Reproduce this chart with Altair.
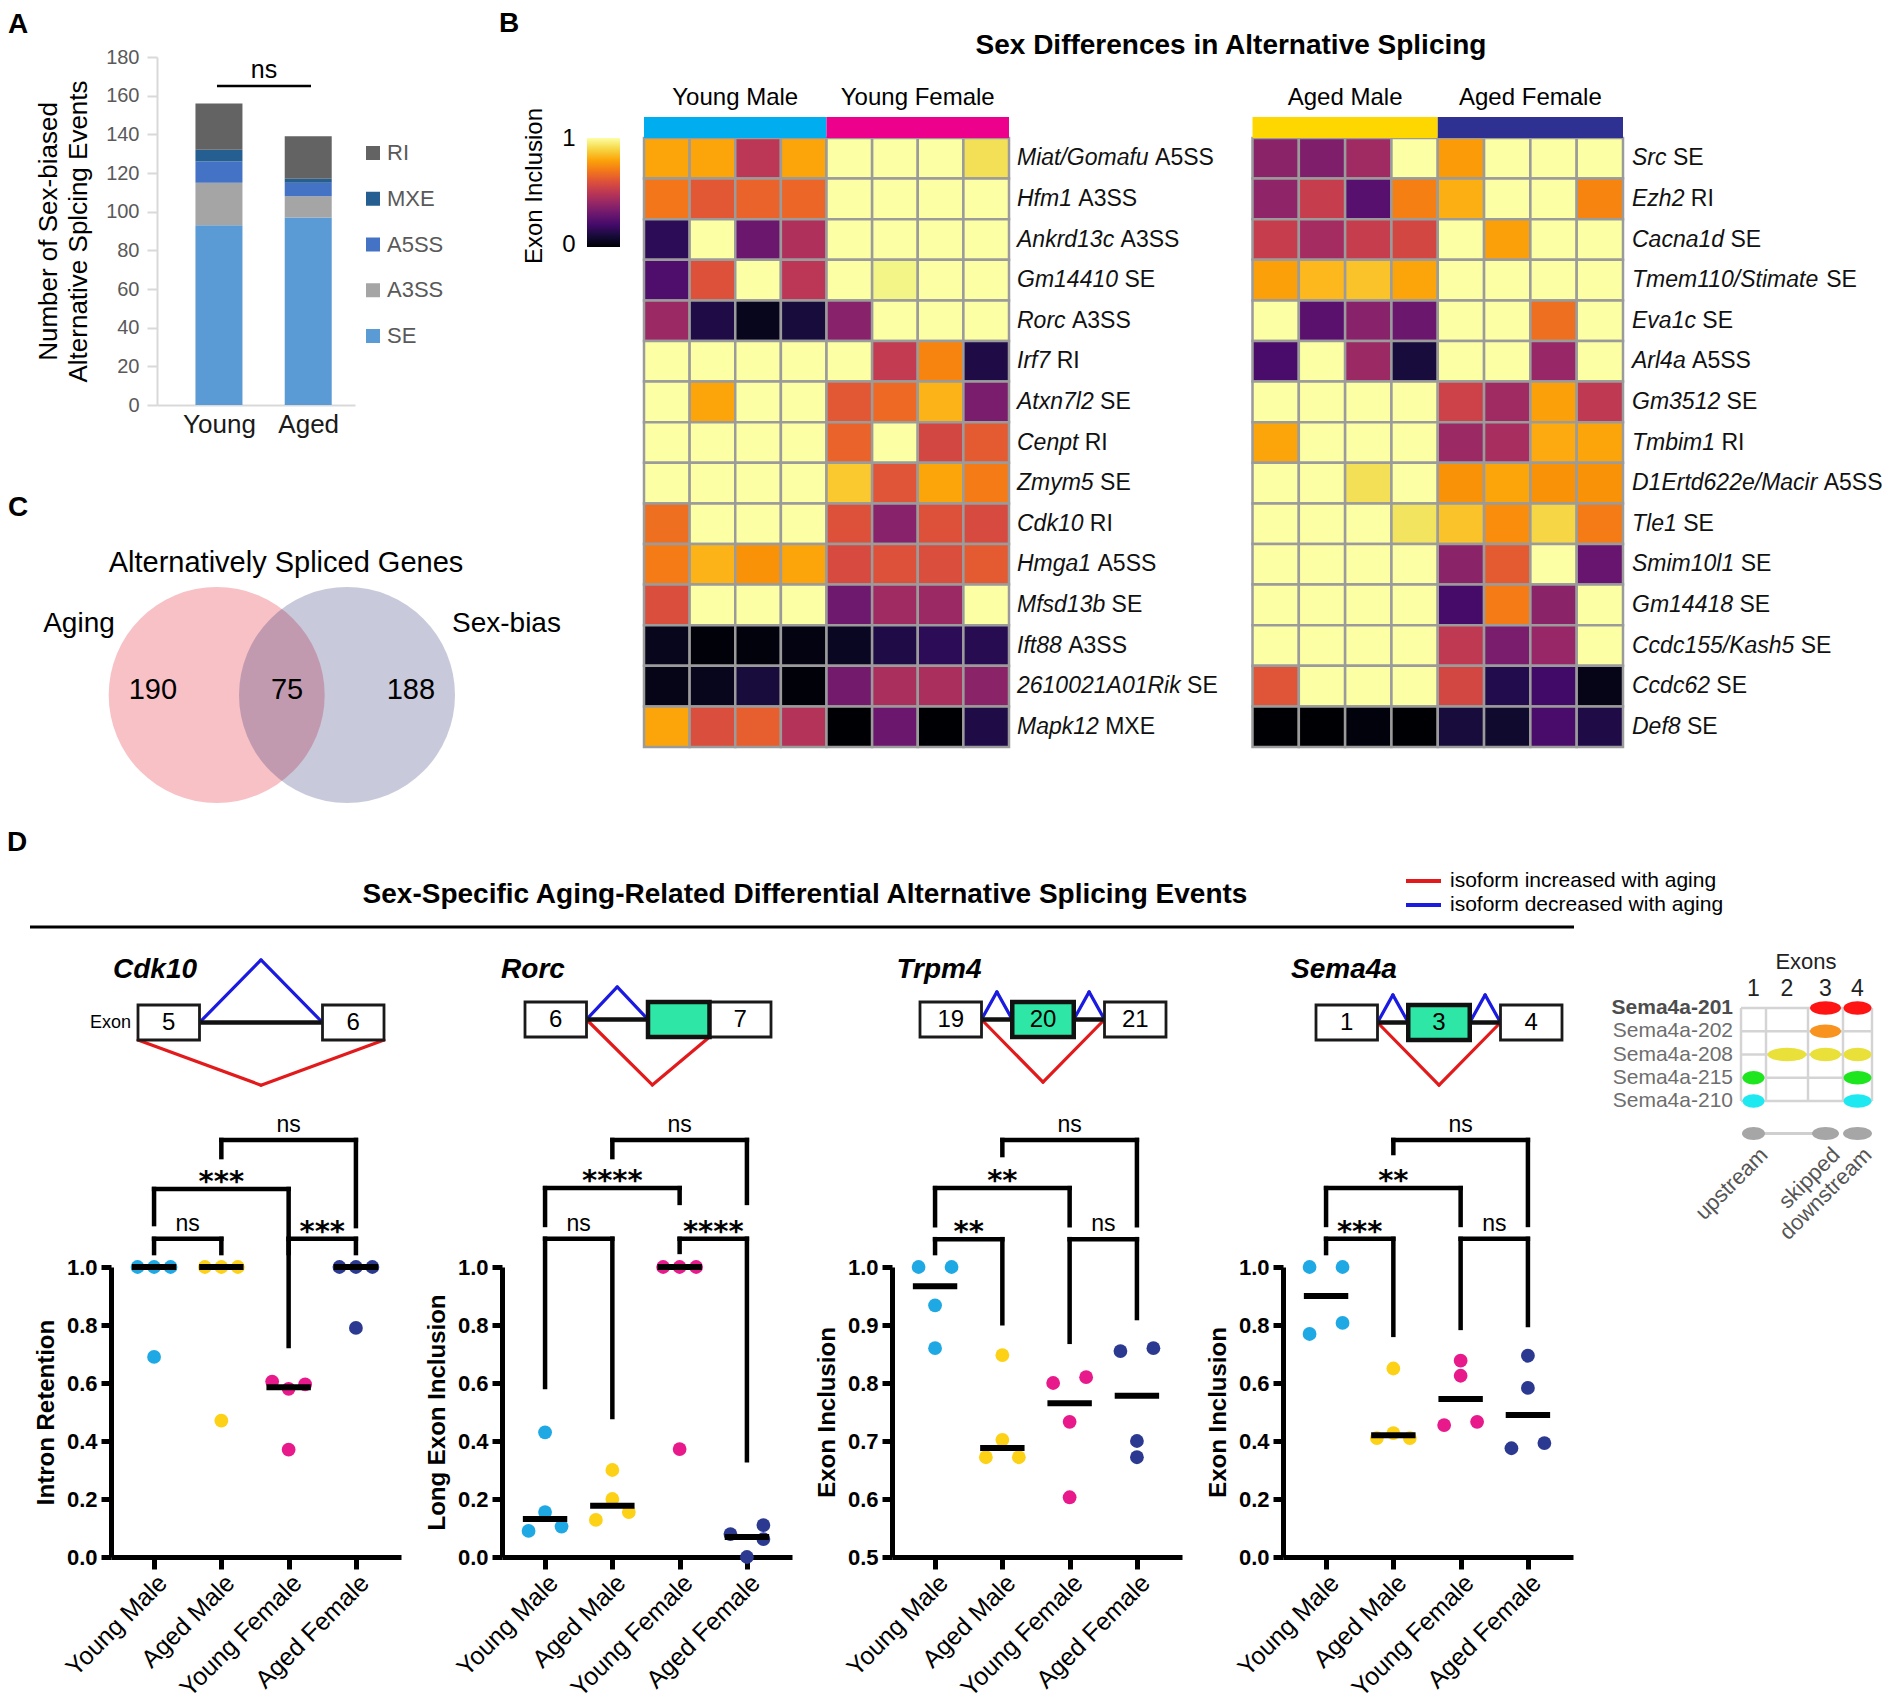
import altair as alt
import pandas as pd

W, H = 1882, 1700
FONT = "Liberation Sans"


def P(v):
    return v - 8


AW = {" ": 278, "/": 278, "-": 333, ".": 278, "*": 389}
for _ch in "0123456789":
    AW[_ch] = 556
AW.update({"A": 667, "B": 667, "C": 722, "D": 722, "E": 667, "F": 611, "G": 778, "H": 722, "I": 278,
           "J": 500, "K": 667, "L": 556, "M": 833, "N": 722, "O": 778, "P": 667, "Q": 778, "R": 722,
           "S": 667, "T": 611, "U": 722, "V": 667, "W": 944, "X": 667, "Y": 667, "Z": 611,
           "a": 556, "b": 556, "c": 500, "d": 556, "e": 556, "f": 278, "g": 556, "h": 556, "i": 222,
           "j": 222, "k": 500, "l": 222, "m": 833, "n": 556, "o": 556, "p": 556, "q": 556, "r": 333,
           "s": 500, "t": 278, "u": 556, "v": 500, "w": 722, "x": 500, "y": 500, "z": 500})


def tw(s, fs):
    return sum(AW.get(ch, 556) for ch in s) / 1000.0 * fs


def lin(d0, d1, r0, r1):
    return alt.Scale(domain=[d0, d1], range=[P(r0), P(r1)], nice=False, zero=False)


def note(text, x, y, size, weight="normal", style="normal", align="center", baseline="middle",
         angle=0, color="#000000", font=FONT):
    df = pd.DataFrame({"t": [text]})
    return alt.Chart(df).mark_text(align=align, baseline=baseline, fontSize=size, fontWeight=weight,
                                   fontStyle=style, angle=angle, color=color, font=font).encode(
        text="t:N", x=alt.value(P(x)), y=alt.value(P(y)))


layers = []

# ======================= DATA =======================
# Panel A
A_groups = ["Young", "Aged"]
A_types = ["SE", "A3SS", "A5SS", "MXE", "RI"]
A_young = [93, 22, 11, 6, 24]
A_aged = [97, 11, 7, 2, 22]
A_colors = ["#5b9bd5", "#a5a5a5", "#4472c4", "#255e91", "#636363"]
A_legend = ["RI", "MXE", "A5SS", "A3SS", "SE"]
A_yticks = [0, 20, 40, 60, 80, 100, 120, 140, 160, 180]
A_sig_y = 165
A_sig_label = "ns"

# Panel B heatmaps
HL_groups = ["Young Male", "Young Female"]
HR_groups = ["Aged Male", "Aged Female"]
G_colors = ["#00aeef", "#ec008c", "#ffd700", "#2e3192"]
HL_genes = ["Miat/Gomafu", "Hfm1", "Ankrd13c", "Gm14410", "Rorc", "Irf7", "Atxn7l2", "Cenpt", "Zmym5",
            "Cdk10", "Hmga1", "Mfsd13b", "Ift88", "2610021A01Rik", "Mapk12"]
HL_events = ["A5SS", "A3SS", "A3SS", "SE", "A3SS", "RI", "SE", "RI", "SE", "RI", "A5SS", "SE", "A3SS",
             "SE", "MXE"]
HL_vals = [
    [0.80, 0.80, 0.50, 0.80, 1, 1, 1, 0.92],
    [0.70, 0.62, 0.65, 0.66, 1, 1, 1, 1],
    [0.15, 1, 0.30, 0.47, 1, 1, 1, 1],
    [0.23, 0.60, 1, 0.50, 1, 0.97, 1, 1],
    [0.42, 0.12, 0.05, 0.10, 0.37, 1, 1, 1],
    [1, 1, 1, 1, 1, 0.52, 0.73, 0.12],
    [1, 0.80, 1, 1, 0.62, 0.67, 0.83, 0.34],
    [1, 1, 1, 1, 0.65, 1, 0.57, 0.63],
    [1, 1, 1, 1, 0.87, 0.61, 0.80, 0.71],
    [0.68, 1, 1, 1, 0.60, 0.37, 0.60, 0.58],
    [0.71, 0.83, 0.76, 0.80, 0.58, 0.60, 0.59, 0.63],
    [0.59, 1, 1, 1, 0.31, 0.43, 0.42, 1],
    [0.05, 0.01, 0.02, 0.03, 0.06, 0.12, 0.15, 0.14],
    [0.04, 0.05, 0.10, 0.01, 0.32, 0.46, 0.46, 0.38],
    [0.80, 0.59, 0.64, 0.48, 0.00, 0.30, 0.00, 0.12],
]
HR_genes = ["Src", "Ezh2", "Cacna1d", "Tmem110/Stimate", "Eva1c", "Arl4a", "Gm3512", "Tmbim1",
            "D1Ertd622e/Macir", "Tle1", "Smim10l1", "Gm14418", "Ccdc155/Kash5", "Ccdc62", "Def8"]
HR_events = ["SE", "RI", "SE", "SE", "SE", "A5SS", "SE", "RI", "A5SS", "SE", "SE", "SE", "SE", "SE", "SE"]
HR_vals = [
    [0.38, 0.35, 0.43, 1, 0.78, 1, 1, 1],
    [0.39, 0.53, 0.25, 0.72, 0.82, 1, 1, 0.73],
    [0.53, 0.44, 0.53, 0.57, 1, 0.79, 1, 1],
    [0.79, 0.84, 0.86, 0.80, 1, 1, 1, 1],
    [1, 0.26, 0.37, 0.30, 1, 1, 0.68, 1],
    [0.22, 1, 0.42, 0.10, 1, 1, 0.41, 1],
    [1, 1, 1, 1, 0.55, 0.43, 0.79, 0.51],
    [0.80, 1, 1, 1, 0.42, 0.45, 0.81, 0.80],
    [1, 1, 0.92, 1, 0.76, 0.80, 0.76, 0.76],
    [1, 1, 1, 0.93, 0.86, 0.75, 0.90, 0.71],
    [1, 1, 1, 1, 0.38, 0.63, 1, 0.29],
    [1, 1, 1, 1, 0.21, 0.71, 0.38, 1],
    [1, 1, 1, 1, 0.51, 0.34, 0.41, 1],
    [0.61, 1, 1, 1, 0.57, 0.13, 0.20, 0.04],
    [0.00, 0.00, 0.02, 0.00, 0.10, 0.08, 0.22, 0.12],
]
INFERNO = ["#000004", "#160b39", "#420a68", "#6a176e", "#932667", "#bc3754", "#dd513a", "#f37819",
           "#fca50a", "#f6d746", "#fcffa4"]

# Panel C
V_sets = ["Aging", "Sex-bias"]
V_counts = [190, 75, 188]

# Panel D
D_groups = ["Young Male", "Aged Male", "Young Female", "Aged Female"]
D_colors = ["#1ea8e4", "#fcd116", "#e8198b", "#2b3990"]
D_genes = ["Cdk10", "Rorc", "Trpm4", "Sema4a"]
D_ytitles = ["Intron Retention", "Long Exon Inclusion", "Exon Inclusion", "Exon Inclusion"]
D_ydomains = [[0, 1], [0, 1], [0.5, 1], [0, 1]]
D_yticks = [[0, 0.2, 0.4, 0.6, 0.8, 1.0], [0, 0.2, 0.4, 0.6, 0.8, 1.0],
            [0.5, 0.6, 0.7, 0.8, 0.9, 1.0], [0, 0.2, 0.4, 0.6, 0.8, 1.0]]
D_vals = [
    [[1.0, 1.0, 1.0, 0.69], [1.0, 1.0, 1.0, 0.47], [0.605, 0.58, 0.595, 0.37], [1.0, 1.0, 1.0, 0.79]],
    [[0.43, 0.155, 0.09, 0.105], [0.30, 0.20, 0.128, 0.155], [1.0, 1.0, 1.0, 0.372], [0.11, 0.079, 0.062, 0.0]],
    [[1.0, 1.0, 0.934, 0.86], [0.848, 0.702, 0.672, 0.672], [0.80, 0.81, 0.733, 0.603], [0.855, 0.86, 0.70, 0.672]],
    [[1.0, 1.0, 0.807, 0.769], [0.65, 0.427, 0.41, 0.41], [0.677, 0.625, 0.455, 0.466], [0.694, 0.583, 0.375, 0.393]],
]
D_jitter = [
    [[-1, 0, 1, 0], [-1, 0, 1, 0], [-1, 0, 1, 0], [-1, 0, 1, 0]],
    [[0, 0, -1, 1], [0, 0, -1, 1], [-1, 0, 1, 0], [1, -1, 1, 0]],
    [[-1, 1, 0, 0], [0, 0, -1, 1], [-1, 1, 0, 0], [-1, 1, 0, 0]],
    [[-1, 1, 1, -1], [0, 0, -1, 1], [0, 0, -1, 1], [0, 0, -1, 1]],
]
D_medians = [[1.0, 1.0, 0.585, 1.0], [0.131, 0.177, 1.0, 0.069], [0.967, 0.688, 0.765, 0.778],
             [0.90, 0.42, 0.545, 0.49]]
# brackets: group1, group2, top, left-leg end, right-leg end, label
D_brackets = [
    [(0, 1, 1.097, 1.048, 1.048, "ns"), (2, 3, 1.097, 1.048, 1.048, "***"),
     (0, 2, 1.269, 1.148, 0.728, "***"), (1, 3, 1.438, 1.379, 1.141, "ns")],
    [(0, 1, 1.097, 0.586, 0.483, "ns"), (2, 3, 1.097, 1.052, 0.334, "****"),
     (0, 2, 1.272, 1.145, 1.221, "****"), (1, 3, 1.438, 1.379, 1.221, "ns")],
    [(0, 1, 1.048, 1.024, 0.903, "**"), (2, 3, 1.048, 0.871, 0.912, "ns"),
     (0, 2, 1.136, 1.072, 1.072, "**"), (1, 3, 1.219, 1.193, 1.072, "ns")],
    [(0, 1, 1.097, 1.048, 0.766, "***"), (2, 3, 1.097, 0.79, 0.80, "ns"),
     (0, 2, 1.272, 1.145, 1.145, "**"), (1, 3, 1.438, 1.393, 1.145, "ns")],
]
# exon diagrams (units: one exon box = 1 wide, box height = 1)
DG_boxes = [
    [(0, 1, "5", 0), (3, 4, "6", 0)],
    [(0, 1, "6", 0), (2, 3, "", 1), (3, 4, "7", 0)],
    [(0, 1, "19", 0), (1.5, 2.5, "20", 1), (3, 4, "21", 0)],
    [(0, 1, "1", 0), (1.5, 2.5, "3", 1), (3, 4, "4", 0)],
]
DG_black = [
    [(1, 0.5, 3, 0.5)],
    [(1, 0.5, 2, 0.5)],
    [(1, 0.5, 1.5, 0.5), (2.5, 0.5, 3, 0.5)],
    [(1, 0.5, 1.5, 0.5), (2.5, 0.5, 3, 0.5)],
]
DG_blue = [
    [(1, 0.5, 2, -1.29), (2, -1.29, 3, 0.5)],
    [(1, 0.5, 1.5, -0.43), (1.5, -0.43, 2, 0.5)],
    [(1, 0.5, 1.25, -0.29), (1.25, -0.29, 1.5, 0.5), (2.5, 0.5, 2.75, -0.29), (2.75, -0.29, 3, 0.5)],
    [(1, 0.5, 1.25, -0.29), (1.25, -0.29, 1.5, 0.5), (2.5, 0.5, 2.75, -0.29), (2.75, -0.29, 3, 0.5)],
]
DG_red = [
    [(0, 1, 2, 2.29), (2, 2.29, 4, 1)],
    [(1, 0.5, 2.07, 2.37), (2.07, 2.37, 3, 1)],
    [(1, 0.5, 2, 2.29), (2, 2.29, 3, 0.5)],
    [(1, 0.5, 2, 2.29), (2, 2.29, 3, 0.5)],
]
# isoform structure
ISO_names = ["Sema4a-201", "Sema4a-202", "Sema4a-208", "Sema4a-215", "Sema4a-210"]
ISO_exons = [[3, 4], [3], [2, 3, 4], [1, 4], [1, 4]]
ISO_colors = ["#ff1414", "#f7931e", "#e9e13a", "#1ee61e", "#1ee8f0"]
ISO_edges = [0, 25, 67, 102, 131]
ISO_roles = ["upstream", "skipped", "downstream"]
ISO_role_exon = [1, 3, 4]

# ======================= PANEL A =======================
rowsA = []
for gi, counts in enumerate([A_young, A_aged]):
    for ti, (t, c) in enumerate(zip(A_types, counts)):
        rowsA.append({"g": gi, "type": t, "n": c, "ord": ti})
dfA = pd.DataFrame(rowsA)
xA = lin(-0.638, 1.468, 157, 355)
yA = lin(0, 180, 405, 57)
colA = alt.Scale(domain=A_types, range=A_colors)
layers.append(alt.Chart(dfA).mark_bar(size=47).encode(
    x=alt.X("g:Q", scale=xA, axis=alt.Axis(
        orient="bottom", offset=P(405) - H, values=[0, 1],
        labelExpr="datum.value == 0 ? '%s' : '%s'" % (A_groups[0], A_groups[1]),
        ticks=False, grid=False, domainColor="#d9d9d9", domainWidth=2, labelFont=FONT,
        labelFontSize=26, labelColor="#1a1a1a", labelPadding=6, title=None, labelFlush=False,
        labelOverlap=False)),
    y=alt.Y("n:Q", stack="zero", scale=yA, axis=alt.Axis(
        orient="left", offset=-P(157), values=A_yticks, grid=False, domainColor="#d9d9d9",
        domainWidth=2, tickColor="#d9d9d9", tickWidth=2, tickSize=10, labelFont=FONT,
        labelFontSize=20, labelColor="#595959", labelPadding=8, labelOverlap=False,
        title=["Number of Sex-biased", "Alternative Splcing Events"], titleFont=FONT,
        titleFontSize=26, titleFontWeight="normal", titleColor="#000000", titlePadding=14,
        titleLineHeight=30)),
    color=alt.Color("type:N", scale=colA, legend=None),
    order=alt.Order("ord:Q"),
))
dfAs = pd.DataFrame({"x1": [0], "x2": [1], "xm": [0.5], "y": [A_sig_y], "t": [A_sig_label]})
layers.append(alt.Chart(dfAs).mark_rule(color="#000000", strokeWidth=2.5).encode(
    x=alt.X("x1:Q", scale=xA, axis=None), x2="x2:Q", y=alt.Y("y:Q", scale=yA, axis=None)))
layers.append(alt.Chart(dfAs).mark_text(font=FONT, fontSize=25, baseline="alphabetic", dy=-8).encode(
    x=alt.X("xm:Q", scale=xA, axis=None), y=alt.Y("y:Q", scale=yA, axis=None), text="t:N"))
dfAL = pd.DataFrame({"type": A_legend, "i": list(range(len(A_legend)))})
yAL = lin(0, 4, 153, 336)
layers.append(alt.Chart(dfAL).mark_square(size=196, opacity=1).encode(
    x=alt.value(P(373)), y=alt.Y("i:Q", scale=yAL, axis=None),
    color=alt.Color("type:N", scale=colA, legend=None)))
layers.append(alt.Chart(dfAL).mark_text(font=FONT, fontSize=22, align="left", color="#595959").encode(
    x=alt.value(P(387)), y=alt.Y("i:Q", scale=yAL, axis=None), text="type:N"))
layers.append(note("A", 18, 25, 28, weight="bold"))

# ======================= PANEL B =======================
layers.append(note("B", 509, 24, 28, weight="bold"))
layers.append(note("Sex Differences in Alternative Splicing", 1231, 46, 28, weight="bold"))


def heat(genes, events, vals, groups, gcols, x0, x1, lab_x):
    colw = (x1 - x0) / 8.0
    xs = lin(0, 8, x0, x1)
    ys = lin(0, 15, 138, 747)
    cells = []
    for r, row in enumerate(vals):
        for c, v in enumerate(row):
            cells.append({"c": c, "c2": c + 1, "r": r, "r2": r + 1, "v": v})
    out = [alt.Chart(pd.DataFrame(cells)).mark_rect(stroke="#9b9b9b", strokeWidth=2.5).encode(
        x=alt.X("c:Q", scale=xs, axis=None), x2="c2:Q",
        y=alt.Y("r:Q", scale=ys, axis=None), y2="r2:Q",
        color=alt.Color("v:Q", scale=alt.Scale(scheme="inferno", domain=[0, 1]), legend=None))]
    dfg = pd.DataFrame({"g": groups, "c0": [0, 4], "c1": [4, 8], "cm": [2, 6], "col": gcols})
    out.append(alt.Chart(dfg).mark_rect().encode(
        x=alt.X("c0:Q", scale=xs, axis=None), x2="c1:Q", y=alt.value(P(117)), y2=alt.value(P(138)),
        color=alt.Color("col:N", scale=None)))
    out.append(alt.Chart(dfg).mark_text(font=FONT, fontSize=24).encode(
        x=alt.X("cm:Q", scale=xs, axis=None), y=alt.value(P(98)), text="g:N"))
    fs = 23
    gx = 8 + (lab_x - x1) / colw
    dfl = pd.DataFrame({"gene": genes, "ev": events, "rm": [r + 0.5 for r in range(len(genes))],
                        "gx": [gx] * len(genes),
                        "ex": [gx + tw(g + " ", fs) / colw for g in genes]})
    out.append(alt.Chart(dfl).mark_text(font=FONT, fontSize=fs, fontStyle="italic", align="left",
                                         color="#111111").encode(
        x=alt.X("gx:Q", scale=xs, axis=None), y=alt.Y("rm:Q", scale=ys, axis=None), text="gene:N"))
    out.append(alt.Chart(dfl).mark_text(font=FONT, fontSize=fs, align="left", color="#111111").encode(
        x=alt.X("ex:Q", scale=xs, axis=None), y=alt.Y("rm:Q", scale=ys, axis=None), text="ev:N"))
    return out


layers += heat(HL_genes, HL_events, HL_vals, HL_groups, G_colors[:2], 644, 1009, 1017)
layers += heat(HR_genes, HR_events, HR_vals, HR_groups, G_colors[2:], 1252.5, 1623, 1632)

grad = alt.LinearGradient(gradient="linear",
                          stops=[alt.GradientStop(color=c, offset=i / 10.0) for i, c in enumerate(INFERNO)],
                          x1=0, x2=0, y1=1, y2=0)
layers.append(alt.Chart(pd.DataFrame({"a": [0]})).mark_rect(color=grad).encode(
    x=alt.value(P(587)), x2=alt.value(P(620)), y=alt.value(P(138)), y2=alt.value(P(247))))
layers.append(note("1", 569, 139, 24))
layers.append(note("0", 569, 245, 24))
layers.append(note("Exon Inclusion", 535, 186, 24, angle=270))

# ======================= PANEL C =======================
layers.append(note("C", 18, 508, 28, weight="bold"))
layers.append(note("Alternatively Spliced Genes", 286, 563, 29))
xV = lin(0, 1, 216.7, 347)
layers.append(alt.Chart(pd.DataFrame({"cx": [0], "s": [V_sets[0]]})).mark_circle(
    size=216 * 216, color="#f7c1c6", opacity=1).encode(
    x=alt.X("cx:Q", scale=xV, axis=None), y=alt.value(P(695))))
layers.append(alt.Chart(pd.DataFrame({"cx": [1], "s": [V_sets[1]]})).mark_circle(
    size=216 * 216, color="#242870", opacity=0.25).encode(
    x=alt.X("cx:Q", scale=xV, axis=None), y=alt.value(P(695))))
layers.append(alt.Chart(pd.DataFrame({"lx": [-0.49, 0.54, 1.49], "t": [str(v) for v in V_counts]})).mark_text(
    font=FONT, fontSize=29).encode(x=alt.X("lx:Q", scale=xV, axis=None), y=alt.value(P(690)), text="t:N"))
layers.append(note(V_sets[0], 79, 624, 28))
layers.append(note(V_sets[1], 452, 624, 28, align="left"))

# ======================= PANEL D header =======================
layers.append(note("D", 17, 843, 28, weight="bold"))
layers.append(note("Sex-Specific Aging-Related Differential Alternative Splicing Events", 805, 895, 28,
                   weight="bold"))
layers.append(alt.Chart(pd.DataFrame({"a": [0]})).mark_rule(color="#000000", strokeWidth=3).encode(
    x=alt.value(P(30)), x2=alt.value(P(1574)), y=alt.value(P(927))))
for yy, col, txt in [(881, "#e31a1c", "isoform increased with aging"),
                     (905, "#1a1ae0", "isoform decreased with aging")]:
    layers.append(alt.Chart(pd.DataFrame({"a": [0]})).mark_rule(color=col, strokeWidth=4).encode(
        x=alt.value(P(1406)), x2=alt.value(P(1441)), y=alt.value(P(yy))))
    layers.append(note(txt, 1450, yy, 21, align="left"))

# ======================= exon diagrams =======================
DG_origin = [(138, 1005), (525, 1002), (920, 1002), (1316, 1005)]
DG_title_pos = [(155, 970), (533, 970), (939, 970), (1344, 970)]
UNIT = 61.5
for k in range(4):
    ox, oy = DG_origin[k]
    xs = lin(0, 4, ox, ox + 4 * UNIT)
    ys = lin(0, 1, oy, oy + 35)
    segs = []
    for cname, lst in [("#e31a1c", DG_red[k]), ("#1a1ae0", DG_blue[k])]:
        for s in lst:
            segs.append({"x1": s[0], "y1": s[1], "x2": s[2], "y2": s[3], "c": cname})
    layers.append(alt.Chart(pd.DataFrame(segs)).mark_rule(strokeWidth=3.2, strokeCap="round").encode(
        x=alt.X("x1:Q", scale=xs, axis=None), x2="x2:Q", y=alt.Y("y1:Q", scale=ys, axis=None), y2="y2:Q",
        color=alt.Color("c:N", scale=None)))
    blk = [{"x1": s[0], "y1": s[1], "x2": s[2], "y2": s[3]} for s in DG_black[k]]
    layers.append(alt.Chart(pd.DataFrame(blk)).mark_rule(strokeWidth=4.5, color="#111111").encode(
        x=alt.X("x1:Q", scale=xs, axis=None), x2="x2:Q", y=alt.Y("y1:Q", scale=ys, axis=None), y2="y2:Q"))
    bx = pd.DataFrame([{"x0": b[0], "x1": b[1], "xm": (b[0] + b[1]) / 2, "t": b[2], "gr": b[3],
                        "y0": 0, "y1": 1, "ym": 0.5} for b in DG_boxes[k]])
    plain = bx[bx.gr == 0]
    green = bx[bx.gr == 1]
    layers.append(alt.Chart(plain).mark_rect(fill="#ffffff", stroke="#1a1a1a", strokeWidth=2.8).encode(
        x=alt.X("x0:Q", scale=xs, axis=None), x2="x1:Q", y=alt.Y("y0:Q", scale=ys, axis=None), y2="y1:Q"))
    if len(green):
        layers.append(alt.Chart(green).mark_rect(fill="#2ee6a6", stroke="#111111", strokeWidth=4.5).encode(
            x=alt.X("x0:Q", scale=xs, axis=None), x2="x1:Q", y=alt.Y("y0:Q", scale=ys, axis=None),
            y2="y1:Q"))
    layers.append(alt.Chart(bx).mark_text(font=FONT, fontSize=24).encode(
        x=alt.X("xm:Q", scale=xs, axis=None), y=alt.Y("ym:Q", scale=ys, axis=None), text="t:N"))
    tx, ty = DG_title_pos[k]
    layers.append(note(D_genes[k], tx, ty, 28, weight="bold", style="italic"))
layers.append(note("Exon", 131, 1023, 18, align="right"))

# ======================= scatter panels =======================
D_axis_x0 = [111, 502, 892, 1283]
JIT = 0.245
lab_expr = "[" + ",".join("'%s'" % g for g in D_groups) + "][datum.value]"
for k in range(4):
    x0 = D_axis_x0[k]
    xs = lin(-0.64, 3.67, x0, x0 + 290)
    ys = alt.Scale(domain=D_ydomains[k], range=[P(1557), P(1267)], nice=False, zero=False)
    pts = []
    for gi in range(4):
        for v, j in zip(D_vals[k][gi], D_jitter[k][gi]):
            pts.append({"x": gi + j * JIT, "v": v, "col": D_colors[gi]})
    layers.append(alt.Chart(pd.DataFrame(pts)).mark_circle(size=190, opacity=1).encode(
        x=alt.X("x:Q", scale=xs, axis=alt.Axis(
            orient="bottom", offset=P(1557) - H, values=[0, 1, 2, 3], labelExpr=lab_expr,
            grid=False, domainColor="#000000", domainWidth=5, tickColor="#000000", tickWidth=5,
            tickSize=12, labelAngle=-45, labelFont=FONT, labelFontSize=25,
            labelColor="#000000", labelPadding=1, labelOverlap=False, labelFlush=False, title=None)),
        y=alt.Y("v:Q", scale=ys, axis=alt.Axis(
            orient="left", offset=-P(x0), values=D_yticks[k], format=".1f", grid=False,
            domainColor="#000000", domainWidth=5, tickColor="#000000", tickWidth=5, tickSize=10,
            labelFont=FONT, labelFontSize=22, labelFontWeight="bold", labelColor="#000000",
            labelPadding=4, labelOverlap=False, labelFlush=False, title=D_ytitles[k], titleFont=FONT,
            titleFontSize=24, titleFontWeight="bold", titleColor="#000000", titlePadding=8)),
        color=alt.Color("col:N", scale=None)))
    meds = pd.DataFrame({"a": [g - 0.33 for g in range(4)], "b": [g + 0.33 for g in range(4)],
                         "m": D_medians[k]})
    layers.append(alt.Chart(meds).mark_rule(strokeWidth=6, color="#000000").encode(
        x=alt.X("a:Q", scale=xs, axis=None), x2="b:Q", y=alt.Y("m:Q", scale=ys, axis=None)))
    segs = []
    labs = []
    for (g1, g2, top, lb, rb, lab) in D_brackets[k]:
        segs.append({"x1": g1, "x2": g2, "y1": top, "y2": top})
        segs.append({"x1": g1, "x2": g1, "y1": top, "y2": lb})
        segs.append({"x1": g2, "x2": g2, "y1": top, "y2": rb})
        labs.append({"xm": (g1 + g2) / 2.0, "y": top, "t": lab, "star": lab.startswith("*")})
    layers.append(alt.Chart(pd.DataFrame(segs)).mark_rule(strokeWidth=4.5, color="#000000",
                                                          strokeCap="square").encode(
        x=alt.X("x1:Q", scale=xs, axis=None), x2="x2:Q", y=alt.Y("y1:Q", scale=ys, axis=None), y2="y2:Q"))
    dl = pd.DataFrame(labs)
    layers.append(alt.Chart(dl[~dl.star]).mark_text(font=FONT, fontSize=23, baseline="alphabetic",
                                                    dy=-8).encode(
        x=alt.X("xm:Q", scale=xs, axis=None), y=alt.Y("y:Q", scale=ys, axis=None), text="t:N"))
    layers.append(alt.Chart(dl[dl.star]).mark_text(font="DejaVu Sans", fontWeight="bold", fontSize=29,
                                                   baseline="alphabetic", dy=2).encode(
        x=alt.X("xm:Q", scale=xs, axis=None), y=alt.Y("y:Q", scale=ys, axis=None), text="t:N"))

# ======================= isoform panel =======================
xI = lin(0, 131, 1741, 1872)
yI = lin(0, 4, 1008, 1101)
centers = [(ISO_edges[i] + ISO_edges[i + 1]) / 2.0 for i in range(4)]
ell_w = [22, 39, 31, 28]
grid = [{"x1": e, "x2": e, "y1": 0, "y2": 4} for e in ISO_edges] + \
       [{"x1": 0, "x2": ISO_edges[-1], "y1": r, "y2": r} for r in range(5)]
layers.append(alt.Chart(pd.DataFrame(grid)).mark_rule(strokeWidth=2.5, color="#d4d4d4").encode(
    x=alt.X("x1:Q", scale=xI, axis=None), x2="x2:Q", y=alt.Y("y1:Q", scale=yI, axis=None), y2="y2:Q"))


def ell(w, h):
    ry = h / float(w)
    return "M-1,0A1,%.3f,0,1,1,1,0A1,%.3f,0,1,1,-1,0Z" % (ry, ry)


dots = []
for r, (exs, col) in enumerate(zip(ISO_exons, ISO_colors)):
    for e in exs:
        w = ell_w[e - 1]
        dots.append({"x": centers[e - 1], "r": r, "col": col, "sz": w * w, "sh": ell(w, 13.5)})
layers.append(alt.Chart(pd.DataFrame(dots)).mark_point(filled=True, opacity=1, strokeWidth=0).encode(
    x=alt.X("x:Q", scale=xI, axis=None), y=alt.Y("r:Q", scale=yI, axis=None),
    color=alt.Color("col:N", scale=None), size=alt.Size("sz:Q", scale=None),
    shape=alt.Shape("sh:N", scale=None)))
dfn = pd.DataFrame({"n": ISO_names, "r": list(range(5)), "b": [1, 0, 0, 0, 0]})
layers.append(alt.Chart(dfn[dfn.b == 1]).mark_text(font=FONT, fontSize=21, fontWeight="bold", align="right",
                                                   color="#4d4d4d").encode(
    x=alt.value(P(1733)), y=alt.Y("r:Q", scale=yI, axis=None), text="n:N"))
layers.append(alt.Chart(dfn[dfn.b == 0]).mark_text(font=FONT, fontSize=21, align="right",
                                                   color="#6e6e6e").encode(
    x=alt.value(P(1733)), y=alt.Y("r:Q", scale=yI, axis=None), text="n:N"))
layers.append(alt.Chart(pd.DataFrame({"x": centers, "t": ["1", "2", "3", "4"]})).mark_text(
    font=FONT, fontSize=23, color="#222222").encode(
    x=alt.X("x:Q", scale=xI, axis=None), y=alt.value(P(989)), text="t:N"))
layers.append(note("Exons", 1806, 962, 22, color="#222222"))
GRAY_ROW = 5.4
rc = [centers[e - 1] for e in ISO_role_exon]
layers.append(alt.Chart(pd.DataFrame({"a": [rc[0]], "b": [rc[1]], "y": [GRAY_ROW]})).mark_rule(
    strokeWidth=3, color="#cfcfcf").encode(
    x=alt.X("a:Q", scale=xI, axis=None), x2="b:Q", y=alt.Y("y:Q", scale=yI, axis=None)))
gw = [23, 27, 29]
gd = pd.DataFrame({"x": rc, "y": [GRAY_ROW] * 3, "sz": [w * w for w in gw],
                   "sh": [ell(w, 13) for w in gw], "t": ISO_roles})
layers.append(alt.Chart(gd).mark_point(filled=True, opacity=1, strokeWidth=0, color="#a6a6a6").encode(
    x=alt.X("x:Q", scale=xI, axis=None), y=alt.Y("y:Q", scale=yI, axis=None),
    size=alt.Size("sz:Q", scale=None), shape=alt.Shape("sh:N", scale=None)))
layers.append(alt.Chart(gd).mark_text(font=FONT, fontSize=22, color="#555555",
                                      align="right", baseline="middle", angle=315, dx=-5, dy=20).encode(
    x=alt.X("x:Q", scale=xI, axis=None), y=alt.Y("y:Q", scale=yI, axis=None), text="t:N"))

chart = alt.layer(*layers).resolve_scale(
    x="independent", y="independent", color="independent", size="independent", shape="independent"
).properties(
    width=W, height=H, autosize=alt.AutoSizeParams(type="none"), padding=0, background="#ffffff"
).configure_view(stroke=None)

chart.save("out.html", embed_options={"renderer": "svg", "actions": False})
